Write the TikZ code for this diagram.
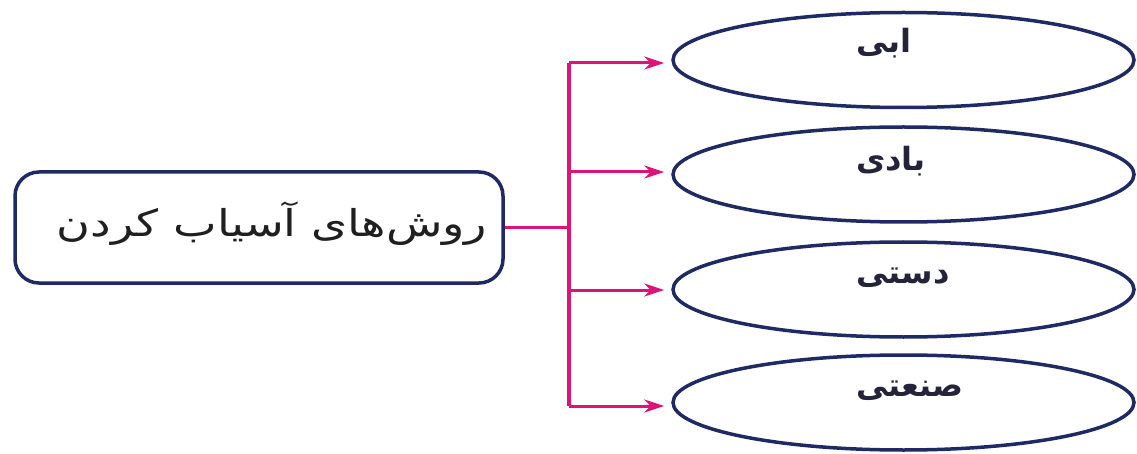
\documentclass[tikz,border=0pt]{standalone}
\usepackage{fontspec}
\usetikzlibrary{shapes.geometric,arrows.meta}
\TeXXeTstate=1
\newfontfamily\arabicfont[Script=Arabic]{DejaVu Sans}
\definecolor{navy}{HTML}{1F2A64}
\definecolor{magline}{HTML}{DC1478}
\definecolor{labelink}{HTML}{23233A}
\tikzset{
  mainbox/.style={draw=navy, line width=3.5pt, rounded corners=24pt, minimum width=488pt, minimum height=111pt, inner sep=0pt},
  oval/.style={draw=navy, line width=3.5pt, ellipse, minimum width=461pt, minimum height=95pt, inner sep=0pt},
  lbl/.style={font=\arabicfont\bfseries\fontsize{32}{36}\selectfont, text=labelink, anchor=west, inner sep=0pt},
  conn/.style={draw=magline, line width=3pt},
  arr/.style={conn, -{Stealth[length=20pt,width=13pt]}, shorten >=7pt}
}
\begin{document}
\begin{tikzpicture}[x=1pt,y=-1pt]
\useasboundingbox (0,0) rectangle (1137,454);
\node[mainbox] (box) at (259,227.5) {};
\node[font=\arabicfont\fontsize{37}{42}\selectfont, text=black!88, inner sep=0pt] (boxtext) at (272,224) {\scalebox{1.25}[1]{\beginR روش‌های آسیاب کردن\endR}};
\node[oval] (e1) at (903.5,60) {};
\node[oval] (e2) at (903.5,174.5) {};
\node[oval] (e3) at (903.5,289.5) {};
\node[oval] (e4) at (903.5,402.5) {};
\node[lbl] (t1) at (856,43) {\beginR ابی\endR};
\node[lbl] (t2) at (856,161) {\beginR بادی\endR};
\node[lbl] (t3) at (856,278) {\beginR دستی\endR};
\node[lbl] (t4) at (856,391) {\beginR صنعتی\endR};
\coordinate (j0) at (569,227.5);
\coordinate (j1) at (569,63);
\coordinate (j2) at (569,172);
\coordinate (j3) at (569,290);
\coordinate (j4) at (569,406);
\draw[conn] (box.east) -- (j0);
\draw[conn, line width=3.5pt] (j1) -- (j4);
\draw[arr] (j1) -- (e1.west |- j1);
\draw[arr] (j2) -- (e2.west |- j2);
\draw[arr] (j3) -- (e3.west |- j3);
\draw[arr] (j4) -- (e4.west |- j4);
\end{tikzpicture}
\end{document}
